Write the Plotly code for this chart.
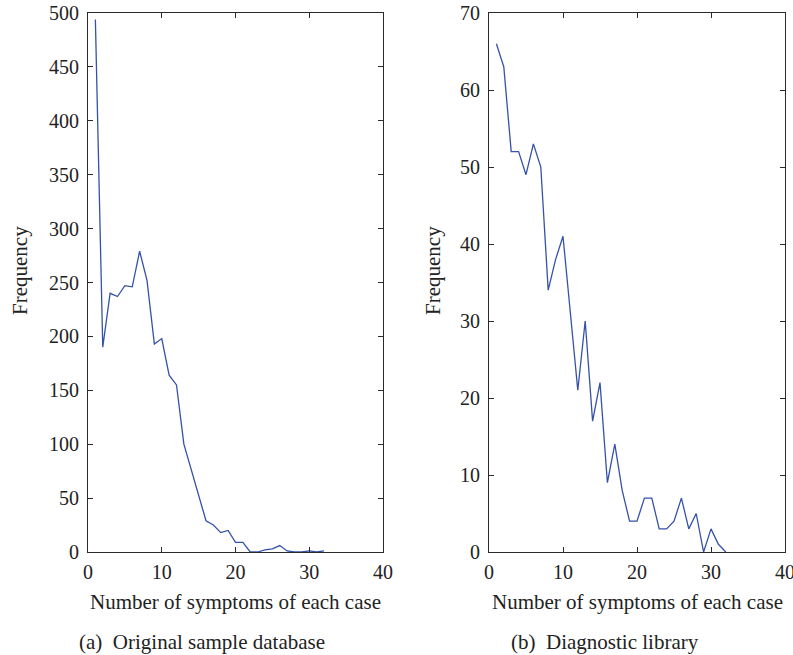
import plotly.graph_objects as go

symptoms = list(range(1, 33))
original_freq = [494, 190, 240, 237, 247, 246, 279, 252, 193, 198, 164, 155, 100, 76, 52, 29,
                 25, 18, 20, 9, 9, 0, 0, 2, 3, 6, 1, 0, 0, 1, 0, 1]
library_freq = [66, 63, 52, 52, 49, 53, 50, 34, 38, 41, 31, 21, 30, 17, 22, 9,
                14, 8, 4, 4, 7, 7, 3, 3, 4, 7, 3, 5, 0, 3, 1, 0]

x_ticks = [0, 10, 20, 30, 40]
left_y_ticks = list(range(0, 501, 50))
right_y_ticks = list(range(0, 71, 10))

x_title = "Number of symptoms of each case"
y_title = "Frequency"
captions = ["(a)  Original sample database", "(b)  Diagnostic library"]

FONT = "Liberation Serif"
LINE = "#3452a8"
AX = "#2a2a2a"

W, H = 793, 655
L1, R1 = 88, 383
L2, R2 = 489, 785
TOP, BOT = 13, 552

fig = go.Figure()
fig.add_trace(go.Scatter(x=symptoms, y=original_freq, mode="lines",
                         line=dict(color=LINE, width=1.3), xaxis="x", yaxis="y", showlegend=False))
fig.add_trace(go.Scatter(x=symptoms, y=library_freq, mode="lines",
                         line=dict(color=LINE, width=1.3), xaxis="x2", yaxis="y2", showlegend=False))

axis_common = dict(showgrid=False, zeroline=False, showline=True, linecolor=AX, linewidth=1.2,
                   mirror="ticks", ticks="inside", ticklen=5, tickcolor=AX, tickwidth=1.2,
                   automargin=False, ticklabeloverflow="allow",
                   tickfont=dict(family=FONT, size=20, color="#222222"))

fig.update_layout(
    width=W, height=H,
    margin=dict(l=0, r=0, t=TOP, b=H - BOT, autoexpand=False),
    paper_bgcolor="white", plot_bgcolor="white",
    xaxis=dict(domain=[L1 / W, R1 / W], range=[0, 40], tickvals=x_ticks, anchor="y",
               ticklabelstandoff=2, **axis_common),
    yaxis=dict(domain=[0, 1], range=[0, 500], tickvals=left_y_ticks, anchor="x",
               ticklabelstandoff=4, **axis_common),
    xaxis2=dict(domain=[L2 / W, R2 / W], range=[0, 40], tickvals=x_ticks, anchor="y2",
                ticklabelstandoff=2, **axis_common),
    yaxis2=dict(domain=[0, 1], range=[0, 70], tickvals=right_y_ticks, anchor="x2",
                ticklabelstandoff=4, **axis_common),
)

ph = BOT - TOP
def py(pix):
    return (BOT - pix) / ph

def px(pix):
    return pix / W

tf = dict(family=FONT, size=21, color="#222222")
anns = []
for (l, r), cap, cx, ylx in [((L1, R1), captions[0], 202, 20), ((L2, R2), captions[1], 605, 433)]:
    anns.append(dict(text=x_title, x=(l + r) / 2 / W, y=py(602), xref="paper", yref="paper",
                     showarrow=False, font=tf, xanchor="center", yanchor="middle"))
    anns.append(dict(text=cap, x=px(cx), y=py(642), xref="paper", yref="paper",
                     showarrow=False, font=tf, xanchor="center", yanchor="middle"))
    anns.append(dict(text=y_title, x=px(ylx), y=py(271), xref="paper", yref="paper",
                     showarrow=False, font=tf, textangle=-90, xanchor="center", yanchor="middle"))
fig.update_layout(annotations=anns)

fig.write_html("out.html", config={"displayModeBar": False},
               post_script="document.body.style.margin='0';document.body.style.overflow='hidden';")
